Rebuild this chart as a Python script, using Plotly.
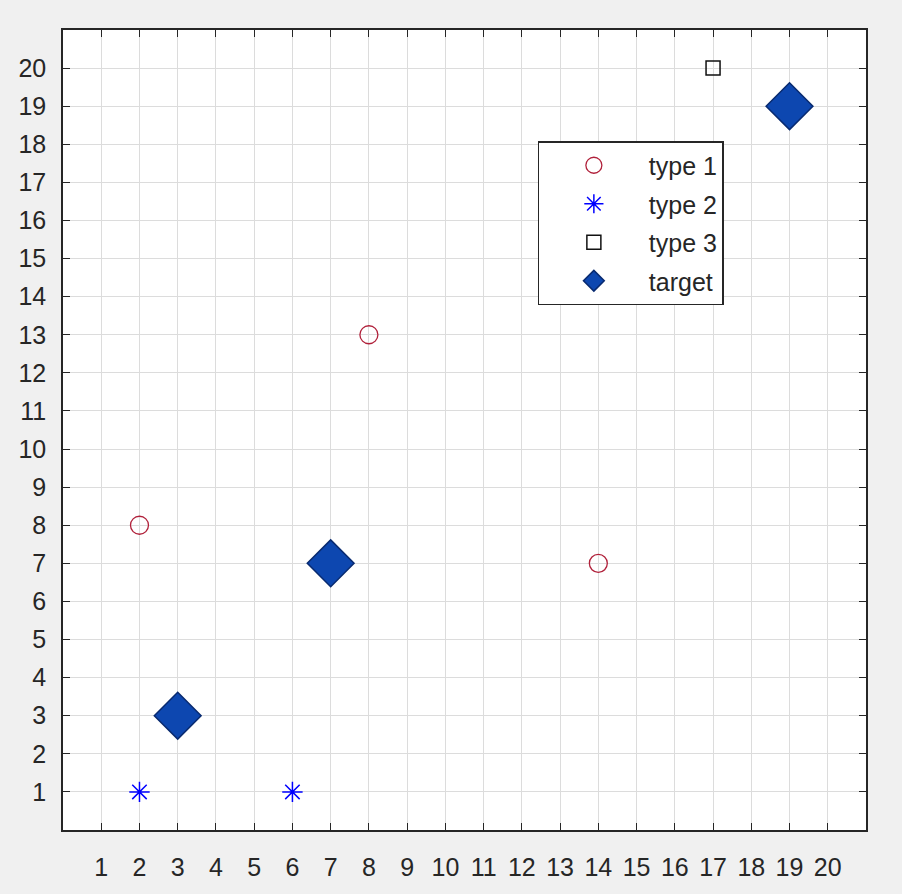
import plotly.graph_objects as go

type1_x = [2, 8, 14]
type1_y = [8, 13, 7]
type2_x = [2, 6]
type2_y = [1, 1]
type3_x = [17]
type3_y = [20]
target_x = [3, 7, 19]
target_y = [3, 7, 19]
tick_vals = list(range(1, 21))
tick_text = [str(v) for v in tick_vals]

fig = go.Figure()
fig.add_trace(go.Scatter(x=type1_x, y=type1_y, mode="markers", name="type 1", legendgroup="a",
                         marker=dict(symbol="circle-open", size=18, color="#b0203a",
                                     line=dict(width=1.3, color="#b0203a"))))
fig.add_trace(go.Scatter(x=type2_x, y=type2_y, mode="markers", name="type 2", legendgroup="b",
                         marker=dict(symbol="asterisk-open", size=17, color="#0000ff",
                                     line=dict(width=1.5, color="#0000ff"))))
fig.add_trace(go.Scatter(x=type3_x, y=type3_y, mode="markers", name="type 3", legendgroup="c",
                         marker=dict(symbol="square-open", size=14, color="#111111",
                                     line=dict(width=1.5, color="#111111"))))
fig.add_trace(go.Scatter(x=target_x, y=target_y, mode="markers", name="target", legendgroup="d",
                         marker=dict(symbol="diamond", size=36, color="#0d47b0",
                                     line=dict(width=1.5, color="#082a70"))))

axis_common = dict(
    range=[0, 21], tickmode="array", tickvals=tick_vals, ticktext=tick_text,
    showgrid=True, gridcolor="#dcdcdc", gridwidth=1,
    ticks="inside", ticklen=7, tickwidth=1.3, tickcolor="#262626",
    showline=True, linecolor="#262626", linewidth=1.5, mirror="ticks",
    zeroline=False, tickfont=dict(family="Liberation Sans, Arial", size=25, color="#262626"),
)

fig.update_layout(
    width=902, height=894,
    margin=dict(l=63, r=36, t=30, b=64),
    paper_bgcolor="#f0f0f0", plot_bgcolor="#ffffff",
    xaxis=dict(**axis_common, ticklabelstandoff=14),
    yaxis=dict(**axis_common, ticklabelstandoff=10),
    showlegend=True,
    legend=dict(x=0.591, y=0.861, xanchor="left", yanchor="top",
                bgcolor="#ffffff", bordercolor="#262626", borderwidth=1.3,
                font=dict(family="Liberation Sans, Arial", size=25, color="#262626"),
                itemwidth=100, tracegroupgap=3, entrywidth=80, entrywidthmode="pixels"),
)

fig.write_html("out.html", config={"displayModeBar": False},
               post_script="document.body.style.margin='0';document.body.style.background='#f0f0f0';")
